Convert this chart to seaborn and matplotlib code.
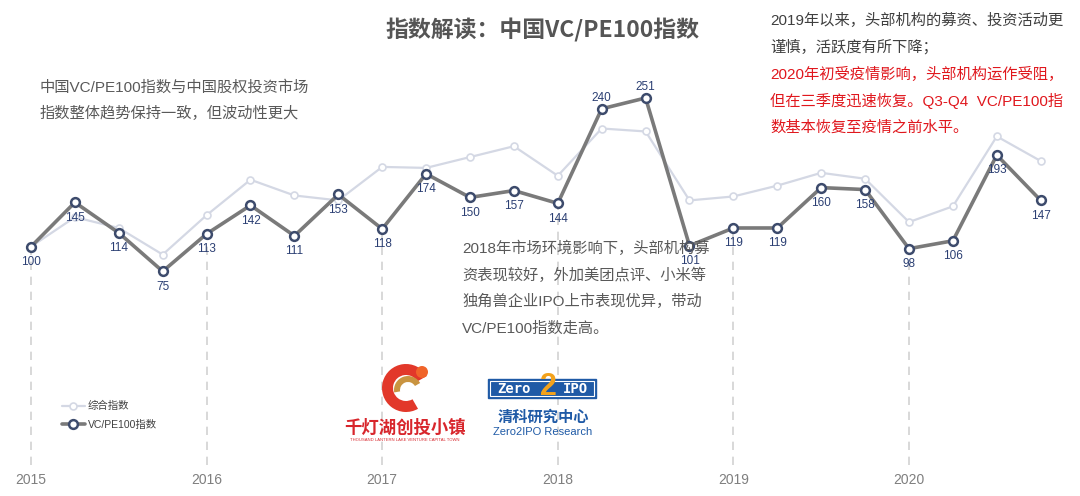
import numpy as np
import pandas as pd
import matplotlib
matplotlib.use("Agg")
import matplotlib.pyplot as plt
import seaborn as sns
from matplotlib.patches import Circle, Wedge, Rectangle

# ---------------- data ----------------
years = ["2015", "2016", "2017", "2018", "2019", "2020"]
quarters = list(range(24))  # 2015Q1 .. 2020Q4
vcpe100 = [100, 145, 114, 75, 113, 142, 111, 153, 118, 174, 150, 157,
           144, 240, 251, 101, 119, 119, 160, 158, 98, 106, 193, 147]
composite = [100, 130, 119, 92, 132, 168, 152, 147, 181, 180, 191, 202,
             172, 220, 217, 147, 151, 162, 175, 169, 125, 141, 212, 187]
series_names = ["综合指数", "VC/PE100指数"]

title = "指数解读：中国VC/PE100指数"
note_left = ["中国VC/PE100指数与中国股权投资市场", "指数整体趋势保持一致，但波动性更大"]
note_mid = ["2018年市场环境影响下，头部机构募", "资表现较好，外加美团点评、小米等",
            "独角兽企业IPO上市表现优异，带动", "VC/PE100指数走高。"]
note_right_gray = ["2019年以来，头部机构的募资、投资活动更", "谨慎，活跃度有所下降；"]
note_right_red = ["2020年初受疫情影响，头部机构运作受阻，", "但在三季度迅速恢复。Q3-Q4  VC/PE100指",
                  "数基本恢复至疫情之前水平。"]

# ---------------- style ----------------
sns.set_theme(style="white")
plt.rcParams["font.family"] = ["Liberation Sans", "Noto Sans CJK SC", "DejaVu Sans"]

W, H = 1080, 496
fig = plt.figure(figsize=(W / 100, H / 100), dpi=100)
fig.patch.set_facecolor("white")

# main axes: bottom at y=465px
ax = fig.add_axes([0, 31 / H, 1, 465 / H])
px_per_q = 43.9
ax.set_xlim(-31 / px_per_q, (W - 31) / px_per_q)
px_per_v = 0.985
ax.set_ylim(100 - (465 - 246.7) / px_per_v, 100 + 246.7 / px_per_v)
for s in ax.spines.values():
    s.set_visible(False)
ax.set_facecolor("none")

df = pd.DataFrame({"q": quarters, "vc": vcpe100, "comp": composite})

# dashed year guides from Q1 points down to axis bottom
ymin = ax.get_ylim()[0]
q1 = df[df["q"] % 4 == 0]
ax.vlines(q1["q"], ymin, q1["vc"], colors="#D2D2D2", linestyles=(0, (5, 4)),
          linewidth=1.2, zorder=1)

sns.lineplot(data=df, x="q", y="comp", ax=ax, color="#D4D8E4", linewidth=1.6,
             marker="o", markersize=5, markerfacecolor="white",
             markeredgecolor="#D4D8E4", markeredgewidth=1.2, label=series_names[0],
             zorder=2)
sns.lineplot(data=df, x="q", y="vc", ax=ax, color="#7A7A7A", linewidth=2.6,
             marker="o", markersize=6.3, markerfacecolor="white",
             markeredgecolor="#3D4B6C", markeredgewidth=1.8, label=series_names[1],
             zorder=3)

# data labels
for q, v in zip(quarters, vcpe100):
    above = v >= 200
    ax.annotate(str(v), (q, v), xytext=(0, 8 if above else -11), textcoords="offset points",
                ha="center", va="center", fontsize=8.5,
                color="#2B3F73", zorder=4)

ax.set_xticks(quarters[::4])
ax.set_xticklabels(years, fontsize=10, color="#7F7F7F")
ax.tick_params(axis="x", length=0, pad=6)
ax.set_yticks([])
ax.set_xlabel("")
ax.set_ylabel("")

leg = ax.legend(loc="upper left", bbox_to_anchor=(62 / W, 1 - 401 / H),
                bbox_transform=fig.transFigure, frameon=False, fontsize=7.5,
                handlelength=2.2, handletextpad=0.25, labelspacing=0.85,
                borderpad=0, borderaxespad=0)
for t in leg.get_texts():
    t.set_color("#404040")

# ---------------- overlay (pixel coords) ----------------
ov = fig.add_axes([0, 0, 1, 1])
ov.set_xlim(0, W)
ov.set_ylim(H, 0)
ov.axis("off")
ov.set_facecolor("none")

ov.text(542, 30, title, ha="center", va="center", fontsize=16.5, fontweight="bold",
        color="#555555", family=["Noto Sans CJK SC", "DejaVu Sans"])

for i, line in enumerate(note_left):
    ov.text(40, 87 + i * 26, line, ha="left", va="center", fontsize=11, color="#595959")
for i, line in enumerate(note_mid):
    ov.text(462, 248 + i * 26.8, line, ha="left", va="center", fontsize=11, color="#595959")
for i, line in enumerate(note_right_gray):
    ov.text(770, 20.5 + i * 26.5, line, ha="left", va="center", fontsize=11, color="#3F3F3F")
for i, line in enumerate(note_right_red):
    ov.text(770, 74 + i * 26.8, line, ha="left", va="center", fontsize=11, color="#E0171D")

# logo 1 (Qiandenghu) approximation
ov.add_patch(Wedge((406, 388), 24, 60, 330, width=11, facecolor="#E2382A", edgecolor="none"))
ov.add_patch(Wedge((408, 390), 14, 170, 330, width=6, facecolor="#C99440", edgecolor="none"))
ov.add_patch(Circle((422, 372), 6, facecolor="#F0642A", edgecolor="none"))
ov.text(405, 428, "千灯湖创投小镇", ha="center", va="center", fontsize=12.5,
        color="#D8262C", fontweight="bold", family=["Noto Sans CJK SC", "DejaVu Sans"])
ov.text(405, 440, "THOUSAND LANTERN LAKE VENTURE CAPITAL TOWN", ha="center", va="center",
        fontsize=3, color="#D8262C")

# logo 2 (Zero2IPO) approximation
ov.add_patch(Rectangle((488, 379), 108, 19, facecolor="#1F5AA6", edgecolor="#1F5AA6"))
ov.add_patch(Rectangle((490, 381), 104, 15, facecolor="#1F5AA6", edgecolor="white", linewidth=0.8))
ov.text(514, 389, "Zero", ha="center", va="center", fontsize=10, color="white",
        fontweight="bold", family="DejaVu Sans Mono")
ov.text(575, 389, "IPO", ha="center", va="center", fontsize=10, color="white",
        fontweight="bold", family="DejaVu Sans Mono")
ov.text(548, 387, "2", ha="center", va="center", fontsize=22, color="#F3A21B",
        fontweight="bold")
ov.text(543, 417, "清科研究中心", ha="center", va="center", fontsize=11,
        color="#1F5AA6", fontweight="bold", family=["Noto Sans CJK SC", "DejaVu Sans"])
ov.text(543, 432, "Zero2IPO Research", ha="center", va="center", fontsize=8,
        color="#1F5AA6")

fig.savefig("out.png", dpi=100, facecolor="white")
